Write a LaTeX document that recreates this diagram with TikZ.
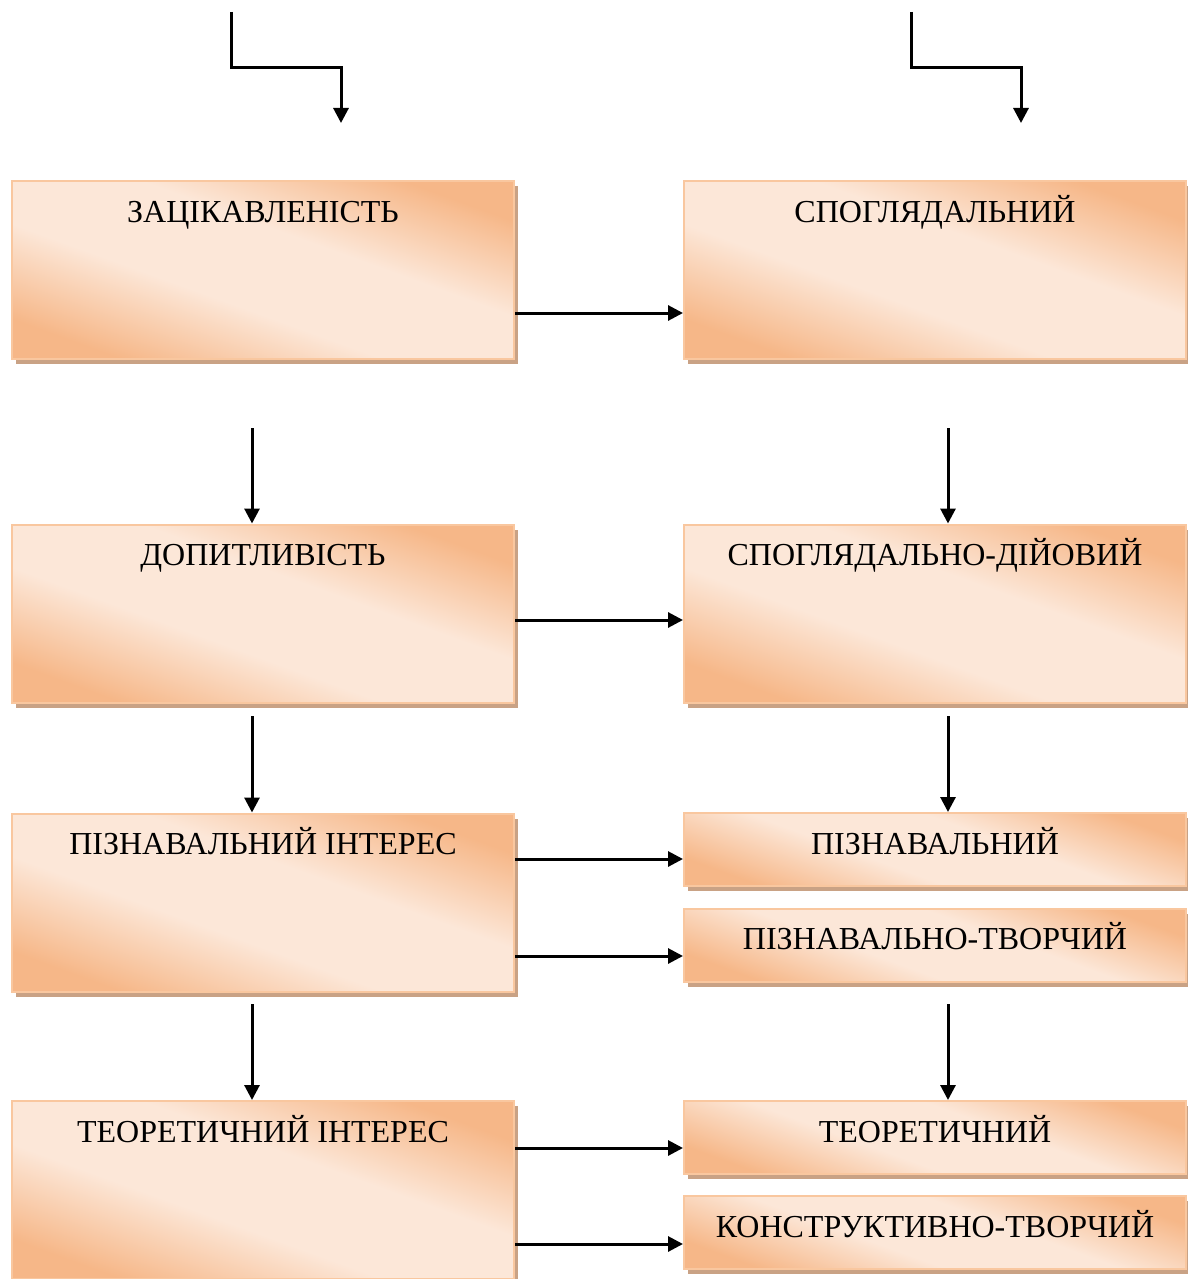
\documentclass[tikz,border=0pt]{standalone}
\usepackage{fontspec}
\setmainfont{Liberation Serif}
\usetikzlibrary{arrows.meta,shadows}
\definecolor{peachdark}{HTML}{F6B788}
\definecolor{peachlight}{HTML}{FCE7D8}
\definecolor{peachline}{HTML}{F9C79F}
\definecolor{shadowtan}{HTML}{C9A285}
\pgfdeclareverticalshading{peachband}{100bp}{color(0bp)=(peachdark); color(25bp)=(peachdark);
	color(42bp)=(peachlight); color(58bp)=(peachlight); color(75bp)=(peachdark); color(100bp)=(peachdark)}
\tikzset{
	box/.style={draw=peachline,line width=2pt,minimum width=502pt,inner sep=0pt,
		shading=peachband,shading angle=-20,
		general shadow={fill=shadowtan,shadow xshift=4pt,shadow yshift=-5pt},
		font=\fontsize{32}{38}\selectfont,text height=41pt},
	big/.style={box,text depth=137pt},
	small/.style={box,text depth=32pt}
}
\begin{document}
\begin{tikzpicture}[x=1pt,y=-1pt,line width=3pt,>={Triangle[length=15pt,width=15pt]}]
	\useasboundingbox (0,0) rectangle (1188,1279);
	
	\node[big] (Z) at(263,270) {ЗАЦІКАВЛЕНІСТЬ};
	\node[big] (S) at(935,270) {СПОГЛЯДАЛЬНИЙ};
	\node[big] (D) at(263,613.5) {ДОПИТЛИВІСТЬ};
	\node[big] (SD) at(935,613.5) {СПОГЛЯДАЛЬНО-ДІЙОВИЙ};
	\node[big] (PI) at(263,902.5) {ПІЗНАВАЛЬНИЙ ІНТЕРЕС};
	\node[small] (P) at(935,849.5) {ПІЗНАВАЛЬНИЙ};
	\node[small] (PT) at(935,945) {ПІЗНАВАЛЬНО-ТВОРЧИЙ};
	\node[big] (TI) at(263,1190) {ТЕОРЕТИЧНИЙ ІНТЕРЕС};
	\node[small] (T) at(935,1137.5) {ТЕОРЕТИЧНИЙ};
	\node[small] (K) at(935,1232.5) {КОНСТРУКТИВНО-ТВОРЧИЙ};
	
	\coordinate (inZ) at(231,12);
	\coordinate (toZ) at(341,123);
	\coordinate (inS) at(911,12);
	\coordinate (toS) at(1021,123);
	\draw[->] (inZ) -- ++(0,56) -| (toZ);
	\draw[->] (inS) -- ++(0,56) -| (toS);
	
	\draw[->] ([yshift=-43pt]Z.east) -- ([yshift=-43pt]S.west);
	\draw[->] ([yshift=-6.5pt]D.east) -- ([yshift=-6.5pt]SD.west);
	\draw[->] ([yshift=-9.5pt]P.west -| PI.east) -- ([yshift=-9.5pt]P.west);
	\draw[->] ([yshift=-11pt]PT.west -| PI.east) -- ([yshift=-11pt]PT.west);
	\draw[->] ([yshift=-10.5pt]T.west -| TI.east) -- ([yshift=-10.5pt]T.west);
	\draw[->] ([yshift=-11.5pt]K.west -| TI.east) -- ([yshift=-11.5pt]K.west);
	
	\coordinate (v1) at(252,428);
	\coordinate (v2) at(948,428);
	\coordinate (v3) at(252,716);
	\coordinate (v4) at(948,716);
	\coordinate (v5) at(252,1004);
	\coordinate (v6) at(948,1004);
	\draw[->] (v1) -- (v1 |- D.north);
	\draw[->] (v2) -- (v2 |- SD.north);
	\draw[->] (v3) -- (v3 |- PI.north);
	\draw[->] (v4) -- (v4 |- P.north);
	\draw[->] (v5) -- (v5 |- TI.north);
	\draw[->] (v6) -- (v6 |- T.north);
\end{tikzpicture}
\end{document}
